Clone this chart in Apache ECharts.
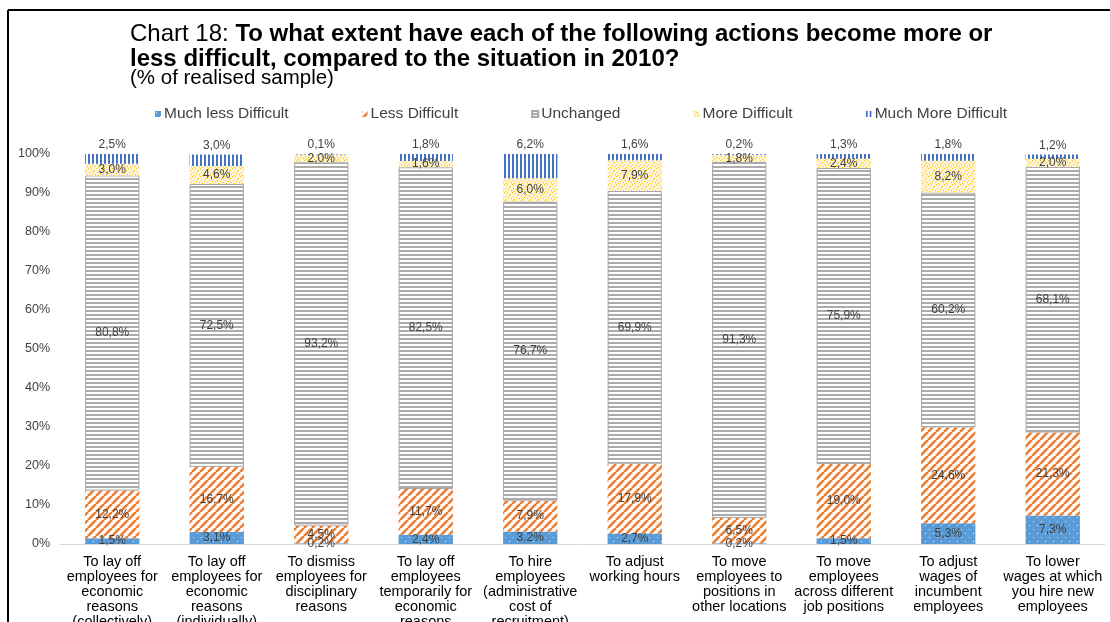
<!DOCTYPE html>
<html>
<head>
<meta charset="utf-8">
<script src="https://cdn.jsdelivr.net/npm/echarts@6/dist/echarts.min.js"></script>
<style>html,body{margin:0;padding:0;background:#fff}#c{width:1110px;height:622px}</style>
</head>
<body>
<div id="c"></div>
<script>
const categories = [
  "To lay off\nemployees for\neconomic\nreasons\n(collectively)",
  "To lay off\nemployees for\neconomic\nreasons\n(individually)",
  "To dismiss\nemployees for\ndisciplinary\nreasons",
  "To lay off\nemployees\ntemporarily for\neconomic\nreasons",
  "To hire\nemployees\n(administrative\ncost of\nrecruitment)",
  "To adjust\nworking hours",
  "To move\nemployees to\npositions in\nother locations",
  "To move\nemployees\nacross different\njob positions",
  "To adjust\nwages of\nincumbent\nemployees",
  "To lower\nwages at which\nyou hire new\nemployees"
];
const seriesNames = ["Much less Difficult", "Less Difficult", "Unchanged", "More Difficult", "Much More Difficult"];
const muchLess = [1.5, 3.1, 0.2, 2.4, 3.2, 2.7, 0.2, 1.5, 5.3, 7.3];
const less = [12.2, 16.7, 4.5, 11.7, 7.9, 17.9, 6.5, 19.0, 24.6, 21.3];
const unchanged = [80.8, 72.5, 93.2, 82.5, 76.7, 69.9, 91.3, 75.9, 60.2, 68.1];
const more = [3.0, 4.6, 2.0, 1.6, 6.0, 7.9, 1.8, 2.4, 8.2, 2.0];
const muchMore = [2.5, 3.0, 0.1, 1.8, 6.2, 1.6, 0.2, 1.3, 1.8, 1.2];
const yTicks = [0, 10, 20, 30, 40, 50, 60, 70, 80, 90, 100];

function pattern(w, h, draw) {
  const c = document.createElement('canvas');
  c.width = w; c.height = h;
  const ctx = c.getContext('2d');
  draw(ctx, w, h);
  return { image: c, repeat: 'repeat' };
}
const pMuchLess = pattern(8, 8, (ctx) => {
  ctx.fillStyle = '#5B9BD5'; ctx.fillRect(0, 0, 8, 8);
  ctx.fillStyle = '#DCE9F6'; ctx.fillRect(1, 1, 1, 1); ctx.fillRect(5, 5, 1, 1);
});
const pLess = pattern(8, 8, (ctx) => {
  ctx.fillStyle = '#ffffff'; ctx.fillRect(0, 0, 8, 8);
  ctx.strokeStyle = '#ED7D31'; ctx.lineWidth = 2.6;
  [-8, 0, 8].forEach(k => { ctx.beginPath(); ctx.moveTo(k, 8); ctx.lineTo(k + 8, 0); ctx.stroke(); });
});
const pUnchanged = pattern(4, 4, (ctx) => {
  ctx.fillStyle = '#ffffff'; ctx.fillRect(0, 0, 4, 4);
  ctx.fillStyle = '#ABABAB'; ctx.fillRect(0, 2, 4, 2);
});
const pMore = pattern(8, 8, (ctx) => {
  ctx.fillStyle = '#FFF4D2'; ctx.fillRect(0, 0, 8, 8);
  ctx.fillStyle = '#FFC000';
  [[0,0],[3,1],[6,2],[1,4],[4,5],[7,6],[2,7],[5,3]].forEach(p => ctx.fillRect(p[0], p[1], 1, 1));
});
const pMuchMore = pattern(4, 4, (ctx) => {
  ctx.fillStyle = '#ffffff'; ctx.fillRect(0, 0, 4, 4);
  ctx.fillStyle = '#4472C4'; ctx.fillRect(0, 0, 2, 4);
});

const fmt = (p) => p.value.toFixed(1).replace('.', ',') + '%';
const lbl = { show: true, position: 'inside', formatter: fmt, fontSize: 12, color: '#404040', fontFamily: 'Liberation Sans' };

function bar(name, data, color, extra) {
  return Object.assign({
    name: name, type: 'bar', stack: 'total', data: data, barWidth: '52%',
    itemStyle: { color: color },
    label: lbl,
    emphasis: { disabled: true }
  }, extra || {});
}

const chart = echarts.init(document.getElementById('c'));
chart.setOption({
  animation: false,
  textStyle: { fontFamily: 'Liberation Sans' },
  title: {
    left: 125, top: 17,
    text: '{n|Chart 18: }{b|To what extent have each of the following actions become more or}\n{b|less difficult, compared to the situation in 2010?}\n{s|(% of realised sample)}',
    textStyle: {
      fontWeight: 'normal',
      rich: {
        n: { fontSize: 24, lineHeight: 25, fontWeight: 'normal', color: '#000', fontFamily: 'Liberation Sans' },
        b: { fontSize: 24, lineHeight: 25, fontWeight: 'bold', color: '#000', fontFamily: 'Liberation Sans' },
        s: { fontSize: 20.5, lineHeight: 13, fontWeight: 'normal', color: '#000', fontFamily: 'Liberation Sans' }
      }
    }
  },
  legend: {
    left: 150, top: 101, itemWidth: 6, itemHeight: 6, itemGap: 73, icon: 'rect',
    textStyle: { fontSize: 15.5, color: '#404040', fontFamily: 'Liberation Sans', padding: [0, 0, 0, -2] },
    data: seriesNames
  },
  grid: { left: 60, right: 5, top: 154, bottom: 78, outerBoundsMode: 'none', containLabel: false },
  xAxis: {
    type: 'category', data: categories,
    axisLine: { lineStyle: { color: '#D9D9D9', width: 1 } },
    axisTick: { show: false },
    axisLabel: { interval: 0, fontSize: 14.5, lineHeight: 15, color: '#000', margin: 10, fontFamily: 'Liberation Sans' }
  },
  yAxis: {
    type: 'value', min: yTicks[0], max: yTicks[yTicks.length - 1], interval: 10,
    axisLine: { show: false }, axisTick: { show: false }, splitLine: { show: false },
    axisLabel: { formatter: '{value}%', fontSize: 12.5, color: '#404040', margin: 10, fontFamily: 'Liberation Sans' }
  },
  series: [
    bar(seriesNames[0], muchLess, pMuchLess),
    bar(seriesNames[1], less, pLess),
    bar(seriesNames[2], unchanged, pUnchanged, { itemStyle: { color: pUnchanged, borderColor: '#A6A6A6', borderWidth: 1 } }),
    bar(seriesNames[3], more, pMore),
    bar(seriesNames[4], muchMore, pMuchMore, { label: Object.assign({}, lbl, { position: 'top', distance: 3 }) })
  ],
  graphic: [
    { type: 'line', shape: { x1: 8, y1: 10, x2: 1110, y2: 10 }, style: { stroke: '#000', lineWidth: 2 } },
    { type: 'line', shape: { x1: 8, y1: 10, x2: 8, y2: 622 }, style: { stroke: '#000', lineWidth: 2 } }
  ]
});
</script>
</body>
</html>
